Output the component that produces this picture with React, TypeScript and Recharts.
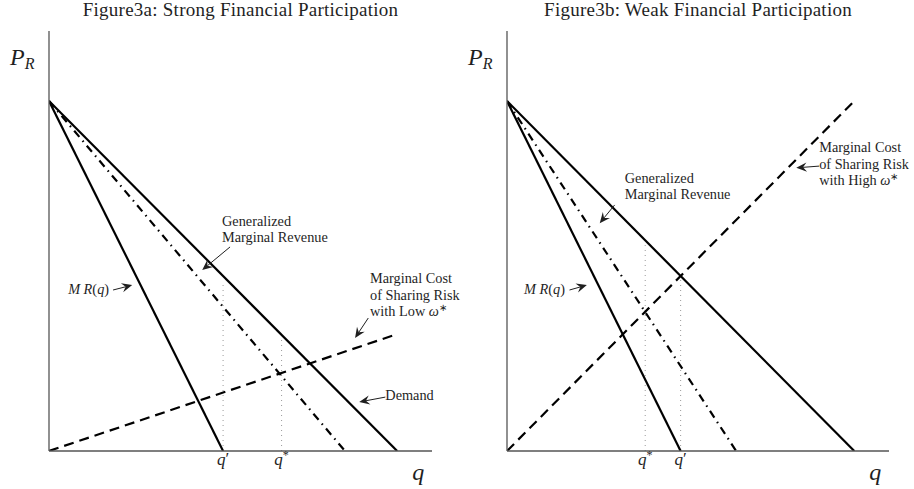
import React from "react";
import { LineChart, Line, XAxis, YAxis, ReferenceLine, ReferenceDot } from "recharts";

type Pt = { q: number; p: number };

// ---------- Figure 3a: Strong Financial Participation ----------
const aMR: Pt[] = [{ q: 0, p: 10 }, { q: 5, p: 0 }];
const aDemand: Pt[] = [{ q: 0, p: 10 }, { q: 10, p: 0 }];
const aGMR: Pt[] = [{ q: 0, p: 10 }, { q: 8.5, p: 0 }];
const aMC: Pt[] = [{ q: 0, p: 0 }, { q: 10, p: 3.34 }];
const aTicks = [5, 6.68];
const aTickLabels = ["′", "*"];
const aGuideTops = [4.8, 3.26];

// ---------- Figure 3b: Weak Financial Participation ----------
const bMR: Pt[] = [{ q: 0, p: 10 }, { q: 5, p: 0 }];
const bDemand: Pt[] = [{ q: 0, p: 10 }, { q: 10, p: 0 }];
const bGMR: Pt[] = [{ q: 0, p: 10 }, { q: 6.6, p: 0 }];
const bMC: Pt[] = [{ q: 0, p: 0 }, { q: 10, p: 10 }];
const bTicks = [3.98, 5];
const bTickLabels = ["*", "′"];
const bGuideTops = [5.94, 5.0];

const titles = ["Figure3a: Strong Financial Participation", "Figure3b: Weak Financial Participation"];

type Note = { x: number; y: number; lines: string[] };
type Arrow = { from: [number, number]; to: [number, number] };

const aNotes: Note[] = [
  { x: 4.97, y: 6.43, lines: ["Generalized", "Marginal Revenue"] },
  { x: 0.55, y: 4.49, lines: ["MR(q)"] },
  { x: 9.22, y: 4.8, lines: ["Marginal Cost", "of Sharing Risk", "with Low ω*"] },
  { x: 9.66, y: 1.46, lines: ["Demand"] },
];
const aArrows: Arrow[] = [
  { from: [5.2, 5.83], to: [4.4, 5.17] },
  { from: [1.84, 4.6], to: [2.39, 4.74] },
  { from: [9.17, 3.8], to: [8.79, 3.23] },
  { from: [9.66, 1.54], to: [8.91, 1.4] },
];

const bNotes: Note[] = [
  { x: 3.39, y: 7.66, lines: ["Generalized", "Marginal Revenue"] },
  { x: 0.49, y: 4.49, lines: ["MR(q)"] },
  { x: 8.99, y: 8.54, lines: ["Marginal Cost", "of Sharing Risk", "with High ω*"] },
];
const bArrows: Arrow[] = [
  { from: [3.1, 7.03], to: [2.67, 6.51] },
  { from: [1.8, 4.6], to: [2.3, 4.74] },
  { from: [8.99, 8.14], to: [8.33, 8.09] },
];

const FONT = "'Liberation Serif', 'Times New Roman', serif";
const INK = "#1f1f1f";

const rich = (l: string) => {
  if (l === "MR(q)") {
    return [
      <tspan key="m" fontStyle="italic">M R</tspan>,
      <tspan key="o">(</tspan>,
      <tspan key="q" fontStyle="italic">q</tspan>,
      <tspan key="c">)</tspan>,
    ];
  }
  const i = l.indexOf("ω*");
  if (i >= 0) {
    return [
      <tspan key="a">{l.slice(0, i)}</tspan>,
      <tspan key="w" fontStyle="italic">ω</tspan>,
      <tspan key="s" fontSize={9.5} dy={-5}>∗</tspan>,
    ];
  }
  return l;
};

const noteShape = (lines: string[]) => (p: any) => (
  <text x={p.cx} y={p.cy} fontFamily={FONT} fontSize={14.3} fill={INK} textAnchor="start">
    {lines.map((l, i) => (
      <tspan key={i} x={p.cx} y={p.cy + i * 16.5}>
        {rich(l)}
      </tspan>
    ))}
  </text>
);

const arrowShape = (props: any) => {
  const { x1, y1, x2, y2 } = props;
  const dx = x2 - x1;
  const dy = y2 - y1;
  const len = Math.hypot(dx, dy) || 1;
  const ux = dx / len;
  const uy = dy / len;
  const nx = -uy;
  const ny = ux;
  const L = 10.5;
  const W = 4.6;
  const N = 6.8;
  const bx = x2 - ux * L;
  const by = y2 - uy * L;
  const kx = x2 - ux * N;
  const ky = y2 - uy * N;
  const d = `M${x2},${y2} L${bx + nx * W},${by + ny * W} L${kx},${ky} L${bx - nx * W},${by - ny * W} Z`;
  return (
    <g>
      <line x1={x1} y1={y1} x2={kx} y2={ky} stroke={INK} strokeWidth={1} />
      <path d={d} fill={INK} />
    </g>
  );
};

const titleShape = (t: string) => (p: any) => (
  <text x={p.cx} y={p.cy} fontFamily={FONT} fontSize={19} letterSpacing={0.25} fill={INK} textAnchor="middle">
    {t}
  </text>
);

const prShape = (p: any) => (
  <text x={p.cx} y={p.cy} fontFamily={FONT} fontSize={24} fill={INK} fontStyle="italic">
    P
    <tspan fontSize={16} dy={4}>R</tspan>
  </text>
);

const qShape = (p: any) => (
  <text x={p.cx} y={p.cy} fontFamily={FONT} fontSize={24} fill={INK} fontStyle="italic">
    q
  </text>
);

const tickShape = (sup: string) => (p: any) => (
  <text x={p.cx} y={p.cy + 14} fontFamily={FONT} fontSize={17} fill={INK} textAnchor="middle">
    <tspan fontStyle="italic">q</tspan>
    <tspan fontSize={sup === "*" ? 12 : 17} dy={sup === "*" ? -6 : -1}>{sup}</tspan>
  </text>
);

type PanelProps = {
  title: string;
  mr: Pt[];
  demand: Pt[];
  gmr: Pt[];
  mc: Pt[];
  ticks: number[];
  tickLabels: string[];
  guideTops: number[];
  notes: Note[];
  arrows: Arrow[];
  left: number;
  width: number;
};

const Panel = ({ title, mr, demand, gmr, mc, ticks, tickLabels, guideTops, notes, arrows, left, width }: PanelProps) => (
  <LineChart width={width} height={489} margin={{ top: 31, right: width - 432, bottom: 37, left: left - 1 }}>
    <XAxis
      type="number"
      dataKey="q"
      domain={[0, 11]}
      tick={false}
      tickLine={false}
      height={1}
      axisLine={{ stroke: "#555", strokeWidth: 1.3 }}
      allowDataOverflow
    />
    <YAxis
      type="number"
      dataKey="p"
      domain={[0, 12]}
      tick={false}
      tickLine={false}
      width={1}
      axisLine={{ stroke: "#555", strokeWidth: 1.3 }}
      allowDataOverflow
    />
    {ticks.map((t, i) => (
      <ReferenceLine
        key={"g" + i}
        segment={[{ x: t, y: 0 }, { x: t, y: guideTops[i] }]}
        stroke="#9a9a9a"
        strokeWidth={1}
        strokeDasharray="1 4"
        ifOverflow="visible"
      />
    ))}
    <Line data={mc} dataKey="p" type="linear" stroke="#000" strokeWidth={2.2} strokeDasharray="10 6" dot={false} isAnimationActive={false} />
    <Line data={gmr} dataKey="p" type="linear" stroke="#000" strokeWidth={2.2} strokeDasharray="8 5 1.5 5" dot={false} isAnimationActive={false} />
    <Line data={mr} dataKey="p" type="linear" stroke="#000" strokeWidth={2.2} dot={false} isAnimationActive={false} />
    <Line data={demand} dataKey="p" type="linear" stroke="#000" strokeWidth={2.2} dot={false} isAnimationActive={false} />
    {arrows.map((a, i) => (
      <ReferenceLine
        key={"a" + i}
        segment={[{ x: a.from[0], y: a.from[1] }, { x: a.to[0], y: a.to[1] }]}
        shape={arrowShape}
        ifOverflow="visible"
      />
    ))}
    {notes.map((n, i) => (
      <ReferenceDot key={"n" + i} x={n.x} y={n.y} r={1} ifOverflow="visible" shape={noteShape(n.lines)} />
    ))}
    {ticks.map((t, i) => (
      <ReferenceDot key={"t" + i} x={t} y={0} r={1} ifOverflow="visible" shape={tickShape(tickLabels[i])} />
    ))}
    <ReferenceDot x={5.5} y={12.43} r={1} ifOverflow="visible" shape={titleShape(title)} />
    <ReferenceDot x={-1.12} y={11.03} r={1} ifOverflow="visible" shape={prShape} />
    <ReferenceDot x={10.43} y={-0.83} r={1} ifOverflow="visible" shape={qShape} />
  </LineChart>
);

export default function App() {
  return (
    <div style={{ position: "absolute", left: 0, top: 0, width: 914, height: 489, background: "#fff" }}>
      <div style={{ position: "absolute", left: 0, top: 0 }}>
        <Panel
          title={titles[0]}
          mr={aMR}
          demand={aDemand}
          gmr={aGMR}
          mc={aMC}
          ticks={aTicks}
          tickLabels={aTickLabels}
          guideTops={aGuideTops}
          notes={aNotes}
          arrows={aArrows}
          left={49}
          width={470}
        />
      </div>
      <div style={{ position: "absolute", left: 457, top: 0 }}>
        <Panel
          title={titles[1]}
          mr={bMR}
          demand={bDemand}
          gmr={bGMR}
          mc={bMC}
          ticks={bTicks}
          tickLabels={bTickLabels}
          guideTops={bGuideTops}
          notes={bNotes}
          arrows={bArrows}
          left={50}
          width={457}
        />
      </div>
    </div>
  );
}
